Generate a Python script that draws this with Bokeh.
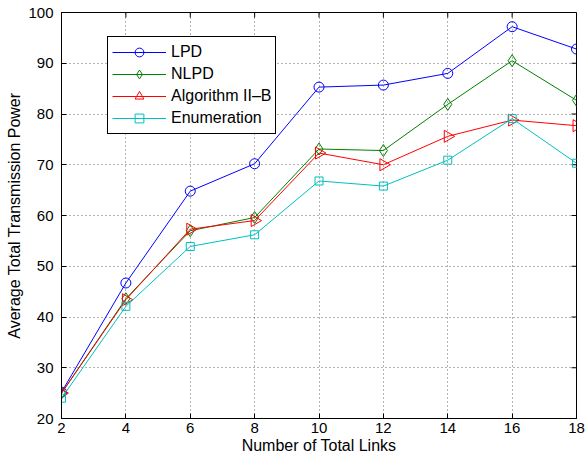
import numpy as np
from bokeh.plotting import figure
from bokeh.models import Legend, LegendItem, FixedTicker, Range1d
from bokeh.embed import file_html
from bokeh.resources import INLINE

links = [2, 4, 6, 8, 10, 12, 14, 16, 18]
lpd = [25.2, 46.7, 64.8, 70.2, 85.3, 85.7, 88.0, 97.2, 92.8]
nlpd = [25.0, 43.6, 57.0, 59.6, 73.1, 72.8, 81.9, 90.5, 82.7]
alg2b = [25.0, 43.4, 57.3, 59.0, 72.3, 70.0, 75.6, 78.8, 77.7]
enum = [24.0, 42.1, 53.9, 56.2, 66.8, 65.8, 70.9, 79.1, 70.3]

series_names = ["LPD", "NLPD", "Algorithm II\u2013B", "Enumeration"]
x_ticks = [2, 4, 6, 8, 10, 12, 14, 16, 18]
y_ticks = [20, 30, 40, 50, 60, 70, 80, 90, 100]
x_min, x_max = 2, 18
y_min, y_max = 20, 100

FONT = "Liberation Sans"

p = figure(width=586, height=458, output_backend="svg", toolbar_location=None,
           x_range=Range1d(x_min, x_max), y_range=Range1d(y_min, y_max))
p.min_border_left = 61
p.min_border_right = 10
p.min_border_top = 12
p.min_border_bottom = 40
p.background_fill_color = "white"
p.border_fill_color = "white"
p.outline_line_color = "black"
p.outline_line_width = 1

for ax in (p.xaxis[0], p.yaxis[0]):
    ax.major_tick_in = 5
    ax.major_tick_out = 0
    ax.minor_tick_line_color = None
    ax.axis_line_color = "black"
    ax.major_tick_line_color = "black"
    ax.major_label_text_font = FONT
    ax.major_label_text_font_size = "15px"
    ax.major_label_text_color = "black"
    ax.axis_label_text_font = FONT
    ax.axis_label_text_font_size = "16px"
    ax.axis_label_text_font_style = "normal"
    ax.axis_label_text_color = "black"

p.xaxis[0].ticker = FixedTicker(ticks=x_ticks)
p.yaxis[0].ticker = FixedTicker(ticks=y_ticks)
p.xaxis[0].axis_label = "Number of Total Links"
p.yaxis[0].axis_label = "Average Total Transmission Power"
p.xaxis[0].major_label_standoff = 4
p.xaxis[0].axis_label_standoff = 1
p.yaxis[0].major_label_standoff = 8
p.yaxis[0].axis_label_standoff = 2

# mirrored inward ticks on top and right edges
p.ray(x=x_ticks, y=[y_max] * len(x_ticks), length=5, length_units="screen",
      angle=-np.pi / 2, line_color="black", line_width=1)
p.ray(x=[x_max] * len(y_ticks), y=y_ticks, length=5, length_units="screen",
      angle=np.pi, line_color="black", line_width=1)

p.grid.grid_line_color = "black"
p.grid.grid_line_alpha = 0.6
p.grid.grid_line_dash = "1 3"
p.grid.grid_line_width = 1
p.xgrid.ticker = FixedTicker(ticks=x_ticks)
p.ygrid.ticker = FixedTicker(ticks=y_ticks)

colors = ["#0000ff", "#008000", "#ff0000", "#00bfbf"]
markers = ["circle", "diamond", "triangle", "square"]
sizes = [10, 12, 12, 8]
angles = [0, 0, -np.pi / 2, 0]
data = [lpd, nlpd, alg2b, enum]

items = []
for name, ys, c, m, s, a in zip(series_names, data, colors, markers, sizes, angles):
    ln = p.line(links, ys, line_color=c, line_width=1)
    sc = p.scatter(links, ys, marker=m, size=s, angle=a, line_color=c,
                   fill_color=None, line_width=1)
    items.append(LegendItem(label=name, renderers=[ln, sc]))

legend = Legend(items=items, location=(46, 284))
legend.label_text_font = FONT
legend.label_text_font_size = "16px"
legend.label_text_color = "black"
legend.border_line_color = "black"
legend.border_line_width = 1
legend.border_line_alpha = 1
legend.background_fill_color = "white"
legend.background_fill_alpha = 1
legend.padding = 4
legend.spacing = 0
legend.glyph_height = 22
legend.label_height = 22
legend.glyph_width = 54
legend.label_standoff = 5
legend.margin = 0
p.add_layout(legend, "center")

open("out.html", "w").write(file_html(p, INLINE))
